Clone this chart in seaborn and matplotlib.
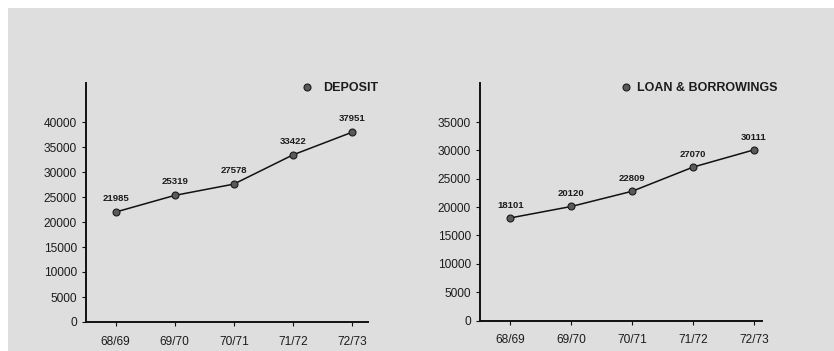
import matplotlib
matplotlib.use("Agg")
import matplotlib.pyplot as plt
from matplotlib.lines import Line2D
from matplotlib.patches import Rectangle
import pandas as pd
import seaborn as sns

# Financial years and the two series (in thousands)
years = ["68/69", "69/70", "70/71", "71/72", "72/73"]
deposit = [21985, 25319, 27578, 33422, 37951]
loans = [18101, 20120, 22809, 27070, 30111]

deposit_ticks = [0, 5000, 10000, 15000, 20000, 25000, 30000, 35000, 40000]
loan_ticks = [0, 5000, 10000, 15000, 20000, 25000, 30000, 35000]

sns.set_style("white")
plt.rcParams["font.family"] = ["Liberation Sans", "DejaVu Sans"]

BG = "#dedede"
INK = "#1c1c1c"

fig = plt.figure(figsize=(8.34, 3.51), dpi=100, facecolor="white")
fig.patches.append(Rectangle((8 / 834, 0), 1, 1 - 8 / 351, transform=fig.transFigure,
                             facecolor=BG, edgecolor="none", zorder=-10))


def panel(rect, values, ticks, ytop, xright, name, leg_x, leg_pad, lift):
    ax = fig.add_axes(rect)
    ax.set_facecolor("none")
    df = pd.DataFrame({"year": years, "value": values})
    sns.lineplot(data=df, x="year", y="value", ax=ax, color="#111111", linewidth=1.1,
                 marker="o", markersize=5, markerfacecolor="#5a5a5a",
                 markeredgecolor="#1a1a1a", markeredgewidth=0.8, sort=False)
    for i, v in enumerate(values):
        ax.annotate(f"{v}", (i, v), xytext=(0, lift), textcoords="offset points",
                    ha="center", va="center", fontsize=6.8, fontweight="bold", color=INK)
    ax.set_xlim(-0.5, xright)
    ax.set_ylim(0, ytop)
    ax.set_yticks(ticks)
    ax.set_yticklabels([str(t) for t in ticks])
    ax.set_xticks(range(len(years)))
    ax.set_xticklabels(years)
    ax.set_xlabel("")
    ax.set_ylabel("")
    for s in ("top", "right"):
        ax.spines[s].set_visible(False)
    for s in ("left", "bottom"):
        ax.spines[s].set_color("#111111")
        ax.spines[s].set_linewidth(1.4)
    ax.tick_params(axis="y", which="major", left=True, length=3, width=0.8,
                   color="#111111", pad=3.5, labelsize=8.6, labelcolor=INK)
    ax.tick_params(axis="x", which="major", bottom=True, length=3, width=0.8,
                   color="#111111", pad=7, labelsize=8.6, labelcolor=INK)
    handle = Line2D([], [], linestyle="none", marker="o", markersize=5,
                    markerfacecolor="#5a5a5a", markeredgecolor="#1a1a1a",
                    markeredgewidth=0.8)
    leg = ax.legend([handle], [name], loc="center left", bbox_to_anchor=(leg_x, 0.979),
                    frameon=False, borderpad=0, borderaxespad=0, handlelength=1.0,
                    handletextpad=leg_pad, prop={"size": 9, "weight": "bold"})
    for t in leg.get_texts():
        t.set_color(INK)
    return ax


panel([86 / 834, 1 - 322 / 351, 282 / 834, 239 / 351], deposit, deposit_ticks,
      47800, 4.27, "DEPOSIT", 0.7615, 0.8, 10)
panel([480 / 834, 1 - 320.5 / 351, 282 / 834, 237.5 / 351], loans, loan_ticks,
      41900, 4.13, "LOAN & BORROWINGS", 0.494, 0.45, 9)

fig.savefig("out.png", dpi=100, facecolor="white")
